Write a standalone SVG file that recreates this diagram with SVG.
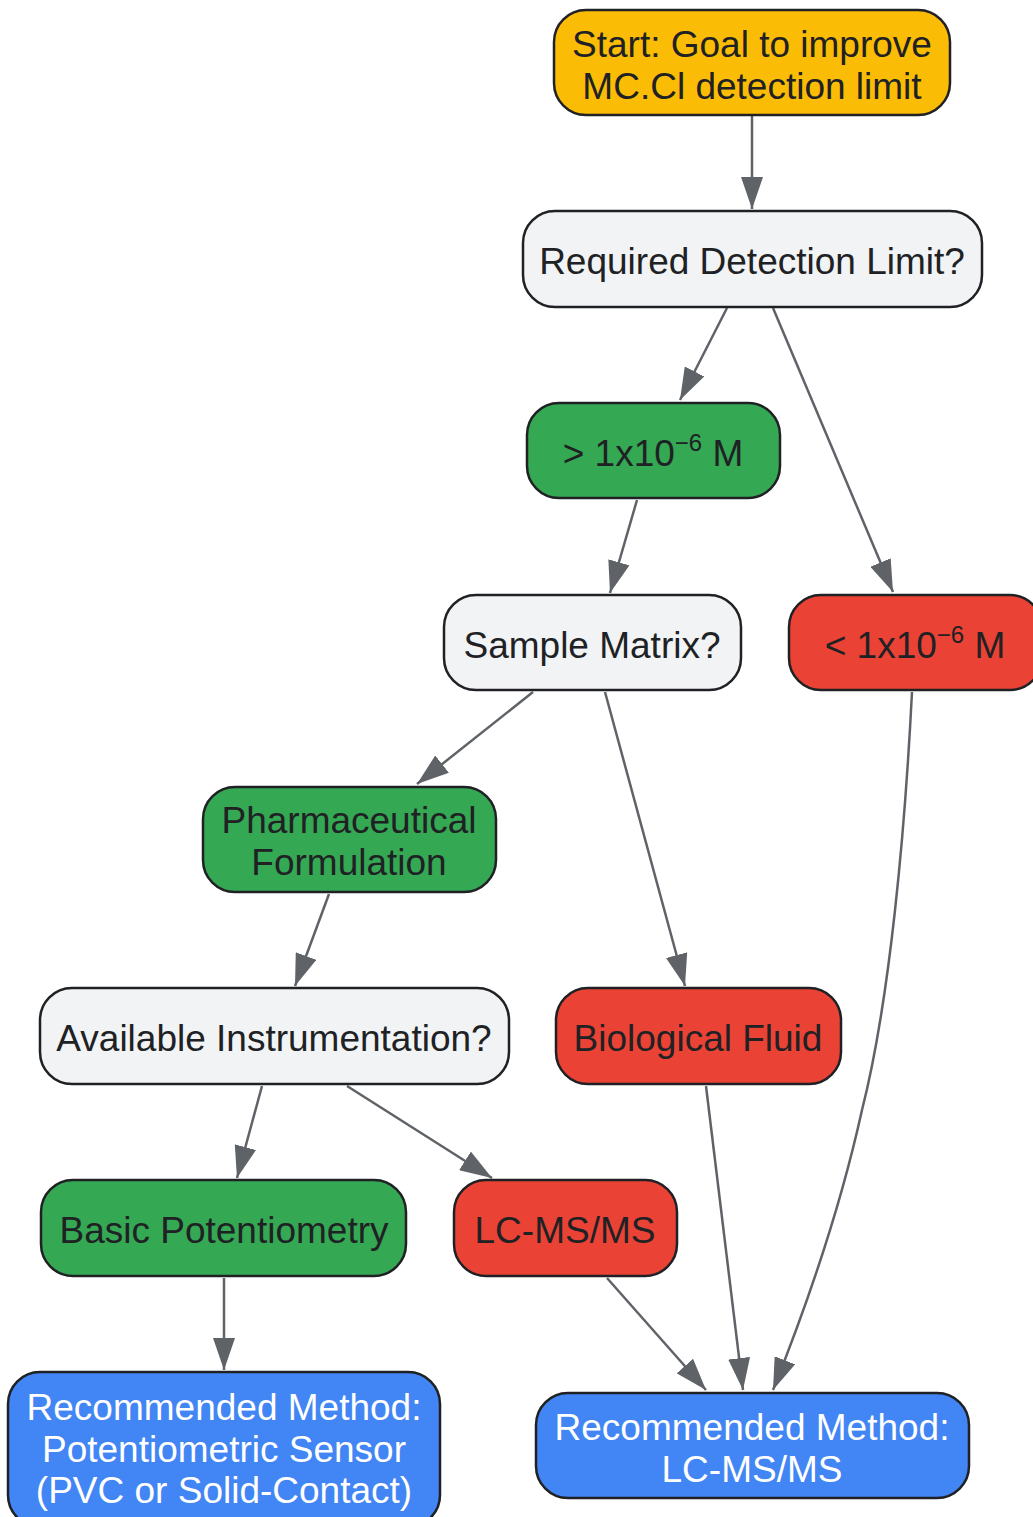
<svg xmlns="http://www.w3.org/2000/svg" width="1033" height="1517" viewBox="0 0 1033 1517">
<defs>
<marker id="ah" viewBox="0 0 32 22" refX="32" refY="11" markerWidth="32" markerHeight="22" markerUnits="userSpaceOnUse" orient="auto">
<path d="M0,0 L32,11 L0,22 Z" fill="#5F6368"/>
</marker>
<style>
.n rect{stroke:#202124;stroke-width:2.5}
.t{font-family:"Liberation Sans",Arial,sans-serif;font-size:37px;fill:#202124;text-anchor:middle;dominant-baseline:central}
.w{fill:#FFFFFF}
.sup{font-size:24px}
.yel{fill:#FBBC05}.gry{fill:#F1F3F4}.grn{fill:#34A853}.red{fill:#EA4335}.blu{fill:#4285F4}
.e path{fill:none;stroke:#5F6368;stroke-width:2.5;marker-end:url(#ah)}
</style>
</defs>
<rect width="1033" height="1517" fill="#FFFFFF"/>
<g class="e" id="edges">
<path d="M752,115 L752,209"/>
<path d="M727,308 L680,400"/>
<path d="M773,308 L893,592"/>
<path d="M637,500 L610,593"/>
<path d="M533,692 L417,784"/>
<path d="M605,692 L685,986"/>
<path d="M329,894 L295,986"/>
<path d="M262,1086 L237,1178"/>
<path d="M347,1086 L492,1178"/>
<path d="M224,1278 L224,1370"/>
<path d="M607,1278 L706,1390"/>
<path d="M706,1086 L743,1390"/>
<path d="M912,692 C905,830 890,1000 862,1110 C840,1210 805,1310 773,1390"/>
</g>
<g class="n" id="start"><rect class="yel" x="554" y="10" width="396" height="105" rx="32"/><text class="t" x="752" y="44">Start: Goal to improve</text><text class="t" x="752" y="86">MC.Cl detection limit</text></g>
<g class="n" id="req"><rect class="gry" x="523" y="211" width="459" height="96" rx="32"/><text class="t" x="752" y="261">Required Detection Limit?</text></g>
<g class="n" id="gt"><rect class="grn" x="527" y="403" width="253" height="95" rx="32"/><text class="t" x="653" y="453">&gt; 1x10<tspan class="sup" dy="-11">−6</tspan><tspan dy="11"> M</tspan></text></g>
<g class="n" id="sample"><rect class="gry" x="444" y="595" width="297" height="95" rx="32"/><text class="t" x="592" y="645">Sample Matrix?</text></g>
<g class="n" id="lt"><rect class="red" x="789" y="595" width="253" height="95" rx="32"/><text class="t" x="915" y="645">&lt; 1x10<tspan class="sup" dy="-11">−6</tspan><tspan dy="11"> M</tspan></text></g>
<g class="n" id="pharm"><rect class="grn" x="203" y="787" width="293" height="105" rx="32"/><text class="t" x="349" y="820">Pharmaceutical</text><text class="t" x="349" y="862">Formulation</text></g>
<g class="n" id="instr"><rect class="gry" x="40" y="988" width="469" height="96" rx="32"/><text class="t" x="274" y="1038">Available Instrumentation?</text></g>
<g class="n" id="bio"><rect class="red" x="556" y="988" width="285" height="96" rx="32"/><text class="t" x="698" y="1038">Biological Fluid</text></g>
<g class="n" id="basic"><rect class="grn" x="41" y="1180" width="365" height="96" rx="32"/><text class="t" x="224" y="1230">Basic Potentiometry</text></g>
<g class="n" id="lcms"><rect class="red" x="454" y="1180" width="223" height="96" rx="32"/><text class="t" x="565" y="1230">LC-MS/MS</text></g>
<g class="n" id="recpot"><rect class="blu" x="8" y="1372" width="432" height="155" rx="32"/><text class="t w" x="224" y="1407">Recommended Method:</text><text class="t w" x="224" y="1449">Potentiometric Sensor</text><text class="t w" x="224" y="1490">(PVC or Solid-Contact)</text></g>
<g class="n" id="reclc"><rect class="blu" x="536" y="1393" width="433" height="105" rx="32"/><text class="t w" x="752" y="1427">Recommended Method:</text><text class="t w" x="752" y="1469">LC-MS/MS</text></g>
</svg>
